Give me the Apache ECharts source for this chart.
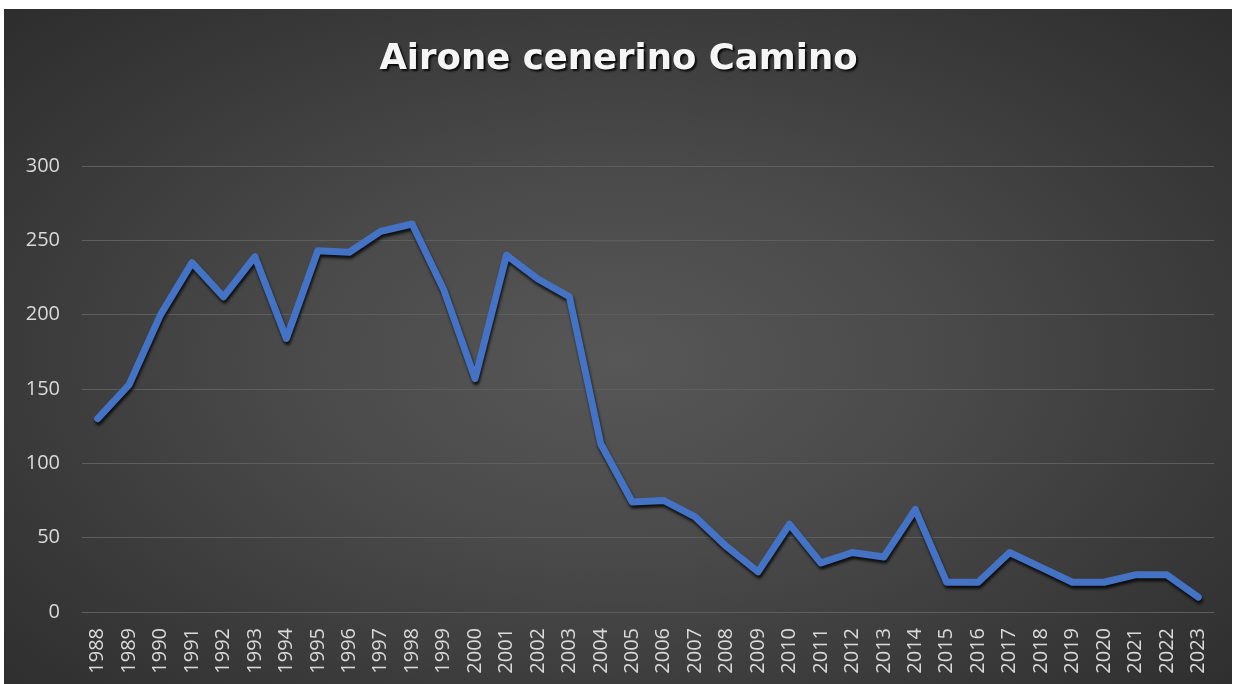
<!DOCTYPE html>
<html>
<head>
<meta charset="utf-8">
<script src="https://cdn.jsdelivr.net/npm/echarts@6/dist/echarts.min.js"></script>
<style>
  html, body { margin: 0; padding: 0; background: #ffffff; width: 1237px; height: 684px; overflow: hidden; }
  #frame { position: absolute; left: 4px; top: 9px; width: 1228px; height: 675px;
    background: radial-gradient(ellipse 75% 80% at 50% 52%, #575757 0%, #4a4a4a 35%, #383838 70%, #2a2a2a 100%); }
  #chart { position: absolute; left: 0; top: 0; width: 1237px; height: 684px; }
</style>
</head>
<body>
<div id="frame"></div>
<div id="chart"></div>
<script>
const titleText = 'Airone cenerino Camino';
const years = ['1988','1989','1990','1991','1992','1993','1994','1995','1996','1997','1998','1999',
  '2000','2001','2002','2003','2004','2005','2006','2007','2008','2009','2010','2011',
  '2012','2013','2014','2015','2016','2017','2018','2019','2020','2021','2022','2023'];
const counts = [130,153,200,235,212,239,184,243,242,256,261,217,
  157,240,224,212,113,74,75,64,44,27,59,33,
  40,37,69,20,20,40,30,20,20,25,25,10];
const yTicks = { min: 0, max: 300, interval: 50 };

const chart = echarts.init(document.getElementById('chart'), null, { renderer: 'canvas' });
chart.setOption({
  backgroundColor: 'transparent',
  animation: false,
  title: {
    text: titleText,
    left: 'center',
    top: 37,
    textStyle: {
      fontFamily: 'DejaVu Sans',
      fontWeight: 'bold',
      fontSize: 35.5,
      color: '#f5f5f5',
      textShadowColor: 'rgba(0,0,0,0.85)',
      textShadowBlur: 2,
      textShadowOffsetX: 2,
      textShadowOffsetY: 2
    }
  },
  grid: { left: 82, right: 23, top: 166, bottom: 72, containLabel: false },
  xAxis: {
    type: 'category',
    data: years,
    boundaryGap: true,
    axisLine: { show: true, lineStyle: { color: '#5e5e5e', width: 1 } },
    axisTick: { show: false },
    axisLabel: {
      rotate: 90,
      margin: 16,
      interval: 0,
      color: '#d9d9d9',
      fontSize: 20,
      fontFamily: 'Open Sans'
    }
  },
  yAxis: {
    type: 'value',
    min: yTicks.min,
    max: yTicks.max,
    interval: yTicks.interval,
    axisLine: { show: false },
    axisTick: { show: false },
    splitLine: { show: true, lineStyle: { color: '#5e5e5e', width: 1 } },
    axisLabel: {
      margin: 22,
      color: '#d9d9d9',
      fontSize: 20,
      fontFamily: 'Open Sans'
    }
  },
  series: [{
    type: 'line',
    data: counts,
    symbol: 'none',
    smooth: false,
    lineStyle: {
      color: '#4472C4',
      width: 7,
      cap: 'round',
      join: 'round',
      shadowColor: 'rgba(0,0,0,0.8)',
      shadowBlur: 3,
      shadowOffsetX: 1,
      shadowOffsetY: 3
    }
  }]
});
</script>
</body>
</html>
